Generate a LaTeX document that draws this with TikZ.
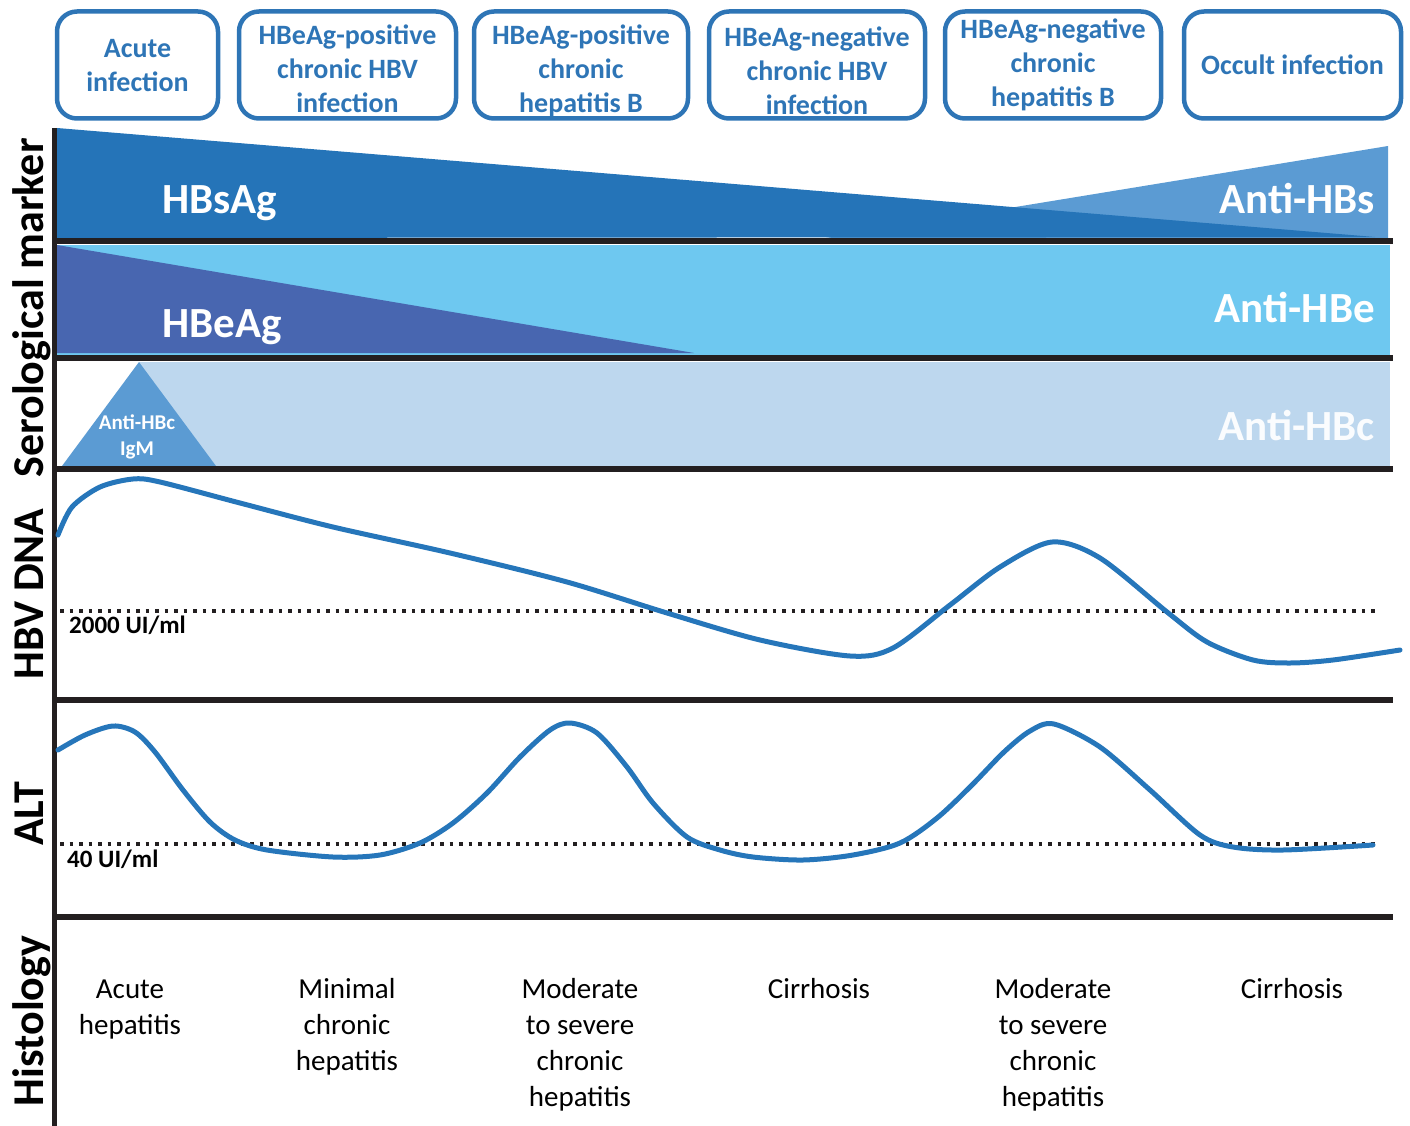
\documentclass[tikz,border=0pt]{standalone}
\usepackage{fontspec}
\setmainfont{Carlito}

\definecolor{boxblue}{RGB}{46,117,182}
\definecolor{hbsblue}{RGB}{37,116,184}
\definecolor{antihbs}{RGB}{91,155,211}
\definecolor{antihbe}{RGB}{110,200,240}
\definecolor{hbeag}{RGB}{72,102,176}
\definecolor{antihbc}{RGB}{189,215,238}
\definecolor{curveblue}{RGB}{38,118,186}
\definecolor{rule}{RGB}{35,31,32}

\begin{document}
\begin{tikzpicture}[x=1pt,y=1pt]
            \tikzstyle{every node}+=[inner sep=0pt]
            \tikzstyle{phase}=[draw=boxblue, line width=4.5pt, rounded corners=20pt, minimum height=107pt]
            \tikzstyle{phasetxt}=[text=boxblue, font=\bfseries\fontsize{28}{34}\selectfont, align=center]
            \tikzstyle{bigtxt}=[text=white, font=\bfseries\fontsize{43}{50}\selectfont]
            \tikzstyle{rowline}=[rule, line width=6pt]
            \tikzstyle{axistxt}=[rotate=90, anchor=base, font=\bfseries\fontsize{44}{50}\selectfont]
            \tikzstyle{curve}=[curveblue, line width=5pt, line cap=round]
            \tikzstyle{limit}=[rule, line width=3.5pt, dash pattern=on 3.5pt off 6pt]
            \tikzstyle{limittxt}=[anchor=base west, font=\bfseries\fontsize{25}{30}\selectfont]
            \tikzstyle{histo}=[anchor=base, align=center, font=\fontsize{29}{36}\selectfont]
            \useasboundingbox (0,0) rectangle (1410,-1126);
            % phases
            \node [phase, minimum width=161pt] (acute) at (137.5,-65) {};
            \node [phase, minimum width=217pt] (posinf) at (347.5,-65) {};
            \node [phase, minimum width=214pt] (poshep) at (581,-65) {};
            \node [phase, minimum width=216pt] (neginf) at (817,-65) {};
            \node [phase, minimum width=216pt] (neghep) at (1053,-65) {};
            \node [phase, minimum width=217pt] (occult) at (1292.5,-65) {};
            \node [phasetxt] (acutetxt) at ([yshift=-1pt]acute.center) {Acute\\infection};
            \node [phasetxt] (posinftxt) at ([yshift=-4pt]posinf.center) {HBeAg-positive\\chronic HBV\\infection};
            \node [phasetxt] (posheptxt) at ([yshift=-6pt]poshep.center) {HBeAg-positive\\chronic\\hepatitis B};
            \node [phasetxt] (neginftxt) at ([yshift=-6pt]neginf.center) {HBeAg-negative\\chronic HBV\\infection};
            \node [phasetxt] (negheptxt) at (neghep.center) {HBeAg-negative\\chronic\\hepatitis B};
            \node [phasetxt] (occulttxt) at (occult.center) {Occult infection};
            % serological markers
            \fill [antihbs] (826,-238) -- (1388,-146) -- (1388,-238) -- cycle;
            \fill [hbsblue] (57,-128) -- (1375,-237) -- (57,-238) -- cycle;
            \fill [antihbe] (57,-245) rectangle (1390,-355);
            \fill [hbeag] (57,-245) -- (694,-353) -- (57,-353) -- cycle;
            \fill [antihbc] (139,-362) rectangle (1390,-466);
            \fill [antihbs] (62,-466) -- (139,-362) -- (216,-466) -- cycle;
            \node [bigtxt, anchor=base west] (hbsag) at (162,-213) {HBsAg};
            \node [bigtxt, anchor=base east] (antihbstxt) at (1375,-213) {Anti-HBs};
            \node [bigtxt, anchor=base west] (hbeagtxt) at (162,-337) {HBeAg};
            \node [bigtxt, anchor=base east] (antihbetxt) at (1375,-322) {Anti-HBe};
            \node [bigtxt, anchor=base east, text=white!92!antihbc] (antihbctxt) at (1375,-440) {Anti-HBc};
            \node [text=white, anchor=base, align=center, font=\bfseries\fontsize{21}{26}\selectfont] (igm) at (137,-455) {Anti-HBc\\IgM};
            % rows
            \draw [rowline] (55,-241) -- (1393,-241);
            \draw [rowline] (55,-358) -- (1393,-358);
            \draw [rowline] (55,-469) -- (1393,-469);
            \draw [rowline] (55,-700) -- (1393,-700);
            \draw [rowline] (55,-917) -- (1393,-917);
            \draw [rule, line width=5.5pt] (54.5,-128) -- (54.5,-1126);
            % HBV DNA
            \draw [limit] (60,-611) -- (1375,-611);
            \node [limittxt] (dnalim) at (69,-633) {2000 UI/ml};
            \draw [curve] plot [smooth, tension=0.5] coordinates {(58,-535) (72,-507) (100,-487)
                (133,-479) (160,-482) (240,-503) (333,-527) (450,-553) (567,-582) (667,-613)
                (760,-640) (850,-656) (893,-648) (950,-605) (1000,-567) (1052,-542) (1100,-558)
                (1167,-612) (1207,-642) (1253,-660) (1290,-663) (1333,-660) (1400,-650)};
            % ALT
            \draw [limit] (60,-844) -- (1375,-844);
            \node [limittxt] (altlim) at (67,-867) {40 UI/ml};
            \draw [curve] plot [smooth, tension=0.5] coordinates {(58,-750) (85,-735) (113,-726) (135,-732)
                (155,-752) (183,-790) (210,-822) (235,-840) (267,-850) (333,-857) (380,-855) (420,-843)
                (453,-823) (487,-793) (520,-757) (550,-730) (570,-723) (597,-733) (627,-767) (653,-803)
                (687,-837) (720,-850) (753,-857) (803,-860) (853,-855) (900,-843) (937,-818) (971,-786)
                (1004,-752) (1030,-731) (1054,-724) (1100,-747) (1150,-790) (1200,-835) (1233,-847)
                (1283,-850) (1373,-845)};
            % axis titles
            \node [axistxt] (sero) at (43,-308) {Serological marker};
            \node [axistxt] (dna) at (43,-594) {HBV DNA};
            \node [axistxt] (alt) at (43,-814) {ALT};
            \node [axistxt] (histology) at (43,-1021) {Histology};
            % histology
            \node [histo] (h1) at (130,-1034) {Acute\\hepatitis};
            \node [histo] (h2) at (347,-1070) {Minimal\\chronic\\hepatitis};
            \node [histo] (h3) at (580,-1106) {Moderate\\to severe\\chronic\\hepatitis};
            \node [histo] (h4) at (819,-998) {Cirrhosis};
            \node [histo] (h5) at (1053,-1106) {Moderate\\to severe\\chronic\\hepatitis};
            \node [histo] (h6) at (1292,-998) {Cirrhosis};
\end{tikzpicture}
\end{document}
